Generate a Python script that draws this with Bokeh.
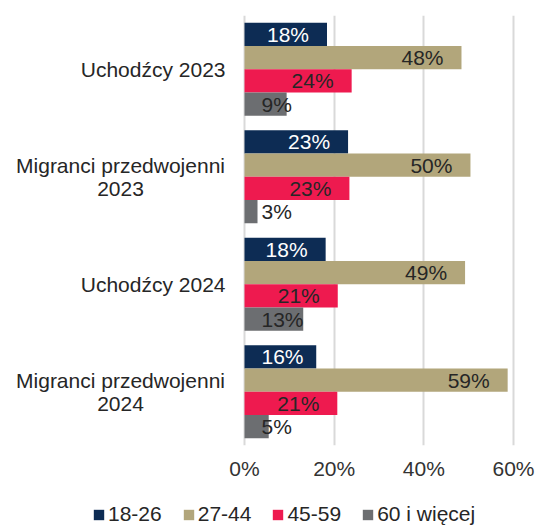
from bokeh.plotting import figure
from bokeh.layouts import column
from bokeh.models import FactorRange, Range1d, FixedTicker, ColumnDataSource, Legend, LegendItem
from bokeh.transform import dodge
from bokeh.core.properties import value
from bokeh.embed import file_html
from bokeh.resources import INLINE

# ---------------- data ----------------
groups = ["Uchodźcy 2023", "Migranci przedwojenni 2023",
          "Uchodźcy 2024", "Migranci przedwojenni 2024"]
group_lines = [["Uchodźcy 2023"],
               ["Migranci przedwojenni", "2023"],
               ["Uchodźcy 2024"],
               ["Migranci przedwojenni", "2024"]]
series = ["18-26", "27-44", "45-59", "60 i więcej"]
v_18_26 = [18.4, 23.1, 18.1, 16.0]
v_27_44 = [48.4, 50.4, 49.2, 58.7]
v_45_59 = [23.9, 23.4, 20.8, 20.7]
v_60_plus = [9.4, 2.9, 13.1, 5.4]
x_ticks = [0, 20, 40, 60]
x_tick_labels = ["0%", "20%", "40%", "60%"]

# ---------------- style ----------------
colors = ["#0D2C54", "#B2A67B", "#EE1A4F", "#6C6E71"]
label_colors = ["#FFFFFF", "#262626", "#262626", "#262626"]
FONT = "Liberation Sans"
FS = "21px"
PX_PER_UNIT = 4.483
offsets = [0.324, 0.108, -0.108, -0.324]
BAR_H = 0.216

p = figure(width=535, height=485, output_backend="svg", toolbar_location=None,
           x_range=Range1d(-54.43, 64.91),
           y_range=FactorRange(factors=list(reversed(groups))),
           min_border_left=0, min_border_right=0, min_border_top=15,
           min_border_bottom=40)
p.outline_line_color = None
p.background_fill_color = "white"
p.border_fill_color = "white"
p.yaxis.visible = False
p.ygrid.grid_line_color = None

p.xgrid.ticker = FixedTicker(ticks=x_ticks)
p.xgrid.grid_line_color = "#D9D9D9"
p.xgrid.grid_line_width = 2
p.xaxis.ticker = FixedTicker(ticks=x_ticks)
p.xaxis.major_label_overrides = {t: l for t, l in zip(x_ticks, x_tick_labels)}
p.xaxis.axis_line_color = None
p.xaxis.major_tick_line_color = None
p.xaxis.minor_tick_line_color = None
p.xaxis.major_tick_out = 0
p.xaxis.major_tick_in = 0
p.xaxis.major_label_standoff = 11
p.xaxis.major_label_text_font = FONT
p.xaxis.major_label_text_font_size = FS
p.xaxis.major_label_text_color = "#333333"

# ---------------- legend strip below the chart (shares the ranges) ----------------
pl = figure(width=535, height=41, output_backend="svg", toolbar_location=None,
            x_range=p.x_range, y_range=p.y_range,
            min_border=0, min_border_left=0, min_border_right=0,
            min_border_top=0, min_border_bottom=0)
pl.outline_line_color = None
pl.axis.visible = False
pl.grid.visible = False

all_vals = [v_18_26, v_27_44, v_45_59, v_60_plus]
items = []
for vals, name, col, lcol, off in zip(all_vals, series, colors, label_colors, offsets):
    src = ColumnDataSource(dict(group=groups, value=vals))
    p.hbar(y=dodge("group", off, range=p.y_range), right="value", left=0,
           height=BAR_H, fill_color=col, line_color=None, source=src)
    # legend proxy (same data, hidden in the legend strip)
    rl = pl.hbar(y=dodge("group", off, range=p.y_range), right="value", left=0,
                 height=BAR_H, fill_color=col, line_color=None, source=src, visible=False)
    items.append(LegendItem(label=name, renderers=[rl]))
    # data labels: inside end when they fit, otherwise from the bar base
    xs, aligns, xoffs, texts = [], [], [], []
    for v in vals:
        txt = f"{round(v)}%"
        if v * PX_PER_UNIT >= 77:
            xs.append(v); aligns.append("right"); xoffs.append(-18)
        else:
            xs.append(0); aligns.append("left"); xoffs.append(17)
        texts.append(txt)
    lsrc = ColumnDataSource(dict(group=groups, x=xs, text=texts, align=aligns, xoff=xoffs))
    p.text(x="x", y=dodge("group", off, range=p.y_range), text="text", source=lsrc,
           text_align="align", text_baseline="middle", x_offset="xoff",
           text_font=value(FONT), text_font_size=FS, text_color=lcol)

# category labels
cy, ct, ca, cxo, cyo = [], [], [], [], []
for g, lines in zip(groups, group_lines):
    n = len(lines)
    for k, line in enumerate(lines):
        cy.append(g); ct.append(line)
        cyo.append((k - (n - 1) / 2) * 23.5)
        if n == 1:
            ca.append("right"); cxo.append(-19)
        else:
            ca.append("center"); cxo.append(-124)
csrc = ColumnDataSource(dict(y=cy, text=ct, align=ca, xoff=cxo, yoff=cyo, x=[0] * len(cy)))
p.text(x="x", y="y", text="text", source=csrc, text_align="align", text_baseline="middle",
       x_offset="xoff", y_offset="yoff", text_font=value(FONT), text_font_size=FS,
       text_color="#262626")

legend = Legend(items=items, orientation="horizontal", location=(92, 0),
                glyph_width=13, glyph_height=13, label_standoff=3, spacing=20,
                padding=0, margin=0, border_line_color=None, background_fill_alpha=0,
                inactive_fill_alpha=0,
                label_text_font=FONT, label_text_font_size=FS, label_text_color="#262626")
pl.add_layout(legend, "center")

layout = column(p, pl, spacing=0)
open("out.html", "w").write(file_html(layout, INLINE))
